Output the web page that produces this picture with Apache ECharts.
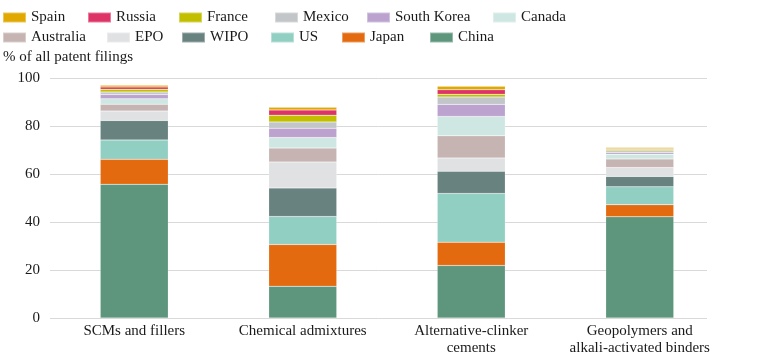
<!DOCTYPE html>
<html>
<head>
<meta charset="utf-8">
<script src="https://cdn.jsdelivr.net/npm/echarts@6/dist/echarts.min.js"></script>
<style>
html,body{margin:0;padding:0;background:#fff;}
#chart{width:774px;height:358px;}
</style>
</head>
<body>
<div id="chart"></div>
<script>
var categories = ['SCMs and fillers', 'Chemical admixtures', 'Alternative-clinker\ncements', 'Geopolymers and\nalkali-activated binders'];
var yTicks = [0, 20, 40, 60, 80, 100];
var yAxisTitle = '% of all patent filings';

var china      = [55.7, 13.2, 21.9, 42.2];
var japan      = [10.4, 17.4, 9.7, 5.0];
var us         = [8.1, 11.7, 20.3, 7.5];
var wipo       = [8.1, 11.9, 9.2, 4.3];
var epo        = [3.9, 10.8, 5.6, 3.7];
var australia  = [2.9, 5.8, 9.2, 3.6];
var canada     = [2.3, 4.4, 8.1, 1.9];
var southKorea = [1.7, 3.9, 5.0, 0.7];
var mexico     = [1.1, 2.6, 3.1, 0.8];
var france     = [1.1, 2.8, 1.1, 0.6];
var russia     = [1.0, 2.2, 1.9, 0.3];
var spain      = [0.7, 1.1, 1.5, 0.4];

var seriesNames = ['China', 'Japan', 'US', 'WIPO', 'EPO', 'Australia', 'Canada', 'South Korea', 'Mexico', 'France', 'Russia', 'Spain'];
var seriesData = [china, japan, us, wipo, epo, australia, canada, southKorea, mexico, france, russia, spain];
var seriesColors = ['#5e967d', '#e36a0e', '#91cfc3', '#67827f', '#e0e1e3', '#c6b4b3', '#cfe7e2', '#bba2cf', '#c2c6c8', '#c2bf00', '#de3366', '#e0a800'];

// legend layout (two rows)
var legendRows = [
  ['Spain', 'Russia', 'France', 'Mexico', 'South Korea', 'Canada'],
  ['Australia', 'EPO', 'WIPO', 'US', 'Japan', 'China']
];
var legendLefts = [
  [2, 87, 178, 274, 366, 492],
  [2, 106, 181, 270, 341, 429]
];
var legendTops = [10, 30];

var FONT = 'Liberation Serif';
var TEXT = '#1a1a1a';

var legends = [];
legendRows.forEach(function (row, r) {
  row.forEach(function (name, i) {
    legends.push({
      data: [name],
      left: legendLefts[r][i],
      top: legendTops[r],
      itemWidth: 23,
      itemHeight: 10,
      itemGap: 0,
      padding: 0,
      icon: 'rect',
      selectedMode: false,
      textStyle: { fontFamily: FONT, fontSize: 15, color: TEXT, padding: [0, 0, 0, 0] }
    });
  });
});

var series = seriesNames.map(function (name, i) {
  return {
    name: name,
    type: 'bar',
    stack: 'total',
    xAxisIndex: 0,
    yAxisIndex: 0,
    barWidth: 68,
    data: seriesData[i],
    itemStyle: { color: seriesColors[i], borderColor: 'rgba(255,255,255,0.35)', borderWidth: 0.5 },
    emphasis: { disabled: true }
  };
});

var chart = echarts.init(document.getElementById('chart'), null, { renderer: 'canvas' });
chart.setOption({
  animation: false,
  backgroundColor: '#ffffff',
  legend: legends,
  graphic: [{
    type: 'text',
    left: 3,
    top: 50,
    style: { text: yAxisTitle, fontFamily: FONT, fontSize: 15, fill: TEXT }
  }],
  grid: [
    { left: 50, right: 50, top: 78, bottom: 40, containLabel: false },
    { left: 50, right: 67, top: 78, bottom: 40, containLabel: false }
  ],
  xAxis: [{
    type: 'category',
    gridIndex: 0,
    data: categories,
    axisLine: { show: false },
    axisTick: { show: false },
    axisLabel: { fontFamily: FONT, fontSize: 15, color: TEXT, margin: 5, lineHeight: 17, interval: 0 }
  }, {
    type: 'value',
    gridIndex: 1,
    min: 0, max: 1,
    show: false
  }],
  yAxis: [{
    type: 'value',
    gridIndex: 0,
    min: yTicks[0], max: yTicks[yTicks.length - 1], interval: 20,
    show: false,
    splitLine: { show: false }
  }, {
    type: 'value',
    gridIndex: 1,
    min: yTicks[0], max: yTicks[yTicks.length - 1], interval: 20,
    axisLine: { show: false },
    axisTick: { show: false },
    axisLabel: { fontFamily: FONT, fontSize: 15, color: TEXT, margin: 10 },
    splitLine: { lineStyle: { color: '#d9d9d9', width: 1 } }
  }],
  series: series
});
</script>
</body>
</html>
